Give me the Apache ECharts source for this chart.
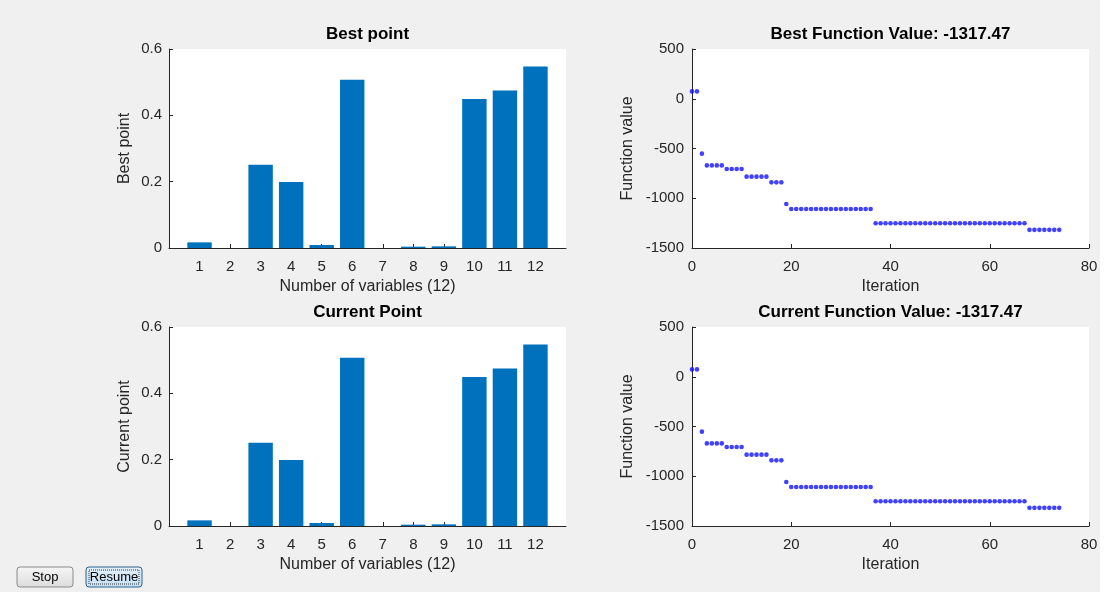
<!DOCTYPE html>
<html>
<head>
<meta charset="utf-8">
<title>Optimization progress</title>
<script src="https://cdn.jsdelivr.net/npm/echarts@6/dist/echarts.min.js"></script>
<style>
  html, body { margin: 0; padding: 0; background: #ffffff; }
  #chart { width: 1110px; height: 594px; }
</style>
</head>
<body>
<div id="chart"></div>
<script>
// Variable indices shown on the bar axes
const variableLabels = ['1', '2', '3', '4', '5', '6', '7', '8', '9', '10', '11', '12'];

// Best point found so far (one value per variable)
const bestPoint = [0.017, 0, 0.251, 0.199, 0.009, 0.507, 0, 0.004, 0.005, 0.449, 0.475, 0.547];

// Current point of the solver (one value per variable)
const currentPoint = [0.017, 0, 0.251, 0.199, 0.009, 0.507, 0, 0.004, 0.005, 0.449, 0.475, 0.547];

// Best objective value at each iteration (iteration 0 .. 74)
const bestValues = [
  74, 74, -552,
  -670, -670, -670, -670,
  -706, -706, -706, -706,
  -783, -783, -783, -783, -783,
  -840, -840, -840,
  -1058,
  -1108, -1108, -1108, -1108, -1108, -1108, -1108, -1108, -1108,
  -1108, -1108, -1108, -1108, -1108, -1108, -1108, -1108,
  -1251, -1251, -1251, -1251, -1251, -1251, -1251, -1251, -1251, -1251,
  -1251, -1251, -1251, -1251, -1251, -1251, -1251, -1251, -1251, -1251,
  -1251, -1251, -1251, -1251, -1251, -1251, -1251, -1251, -1251, -1251, -1251,
  -1317.47, -1317.47, -1317.47, -1317.47, -1317.47, -1317.47, -1317.47
];

// Current objective value at each iteration (iteration 0 .. 74)
const currentValues = [
  74, 74, -552,
  -670, -670, -670, -670,
  -706, -706, -706, -706,
  -783, -783, -783, -783, -783,
  -840, -840, -840,
  -1058,
  -1108, -1108, -1108, -1108, -1108, -1108, -1108, -1108, -1108,
  -1108, -1108, -1108, -1108, -1108, -1108, -1108, -1108,
  -1251, -1251, -1251, -1251, -1251, -1251, -1251, -1251, -1251, -1251,
  -1251, -1251, -1251, -1251, -1251, -1251, -1251, -1251, -1251, -1251,
  -1251, -1251, -1251, -1251, -1251, -1251, -1251, -1251, -1251, -1251, -1251,
  -1317.47, -1317.47, -1317.47, -1317.47, -1317.47, -1317.47, -1317.47
];

const bestFinal = '-1317.47';
const currentFinal = '-1317.47';

const FONT = '"Liberation Sans", Arial, Helvetica, sans-serif';
const AXIS_COLOR = '#262626';
const TEXT_COLOR = '#262626';
const BAR_COLOR = '#0072BD';
const DOT_COLOR = '#1010ff';

// Plot boxes (pixels)
const LEFT_X = 169, RIGHT_X = 692, BOX_W = 397, BOX_H = 199;
const TOP_Y = 49, BOTTOM_Y = 327;

const chart = echarts.init(document.getElementById('chart'), null, { renderer: 'canvas' });

// Bar axis: padding slots at 0 and 13 so the bars sit on integer ticks
const barAxisData = ['0'].concat(variableLabels, ['13']);
const padEnds = arr => [null].concat(arr, [null]);
const plainNumber = v => String(v);

function barXAxis(gridIndex, name) {
  return {
    type: 'category', gridIndex, data: barAxisData, boundaryGap: false,
    name, nameLocation: 'middle', nameGap: 31,
    nameTextStyle: { fontFamily: FONT, fontSize: 16, color: TEXT_COLOR },
    axisLine: { onZero: false, lineStyle: { color: AXIS_COLOR, width: 1 } },
    axisTick: { inside: true, length: 4, lineStyle: { color: AXIS_COLOR },
      interval: (i) => i > 0 && i < barAxisData.length - 1 },
    axisLabel: { fontFamily: FONT, fontSize: 15, color: TEXT_COLOR, margin: 11,
      interval: 0, formatter: (v, i) => (i > 0 && i < barAxisData.length - 1) ? v : '' },
    splitLine: { show: false }
  };
}
function barYAxis(gridIndex, name) {
  return {
    type: 'value', gridIndex, min: 0, max: 0.6, interval: 0.2,
    name, nameLocation: 'middle', nameGap: 36,
    nameTextStyle: { fontFamily: FONT, fontSize: 16, color: TEXT_COLOR },
    axisLine: { show: true, onZero: false, lineStyle: { color: AXIS_COLOR, width: 1 } },
    axisTick: { show: true, inside: true, length: 4, lineStyle: { color: AXIS_COLOR } },
    axisLabel: { fontFamily: FONT, fontSize: 15, color: TEXT_COLOR, margin: 7, formatter: plainNumber },
    splitLine: { show: false }
  };
}
function iterXAxis(gridIndex) {
  return {
    type: 'value', gridIndex, min: 0, max: 80, interval: 20,
    name: 'Iteration', nameLocation: 'middle', nameGap: 31,
    nameTextStyle: { fontFamily: FONT, fontSize: 16, color: TEXT_COLOR },
    axisLine: { onZero: false, lineStyle: { color: AXIS_COLOR, width: 1 } },
    axisTick: { inside: true, length: 4, lineStyle: { color: AXIS_COLOR } },
    axisLabel: { fontFamily: FONT, fontSize: 15, color: TEXT_COLOR, margin: 11, formatter: plainNumber },
    splitLine: { show: false }
  };
}
function fvalYAxis(gridIndex) {
  return {
    type: 'value', gridIndex, min: -1500, max: 500, interval: 500,
    name: 'Function value', nameLocation: 'middle', nameGap: 56,
    nameTextStyle: { fontFamily: FONT, fontSize: 16, color: TEXT_COLOR },
    axisLine: { show: true, onZero: false, lineStyle: { color: AXIS_COLOR, width: 1 } },
    axisTick: { show: true, inside: true, length: 4, lineStyle: { color: AXIS_COLOR } },
    axisLabel: { fontFamily: FONT, fontSize: 15, color: TEXT_COLOR, margin: 8, formatter: plainNumber },
    splitLine: { show: false }
  };
}
function titleAt(text, cx, top) {
  return { text, left: cx, top, textAlign: 'center', padding: 0,
    textStyle: { fontFamily: FONT, fontSize: 17, fontWeight: 'bold', color: '#000000' } };
}

function button(x, y, w, h, label, focused) {
  const children = [{
    type: 'rect', shape: { x, y, width: w, height: h, r: 3 },
    style: {
      fill: focused
        ? new echarts.graphic.LinearGradient(0, 0, 0, 1, [{ offset: 0, color: '#e5f1fb' }, { offset: 1, color: '#c4e0f7' }])
        : new echarts.graphic.LinearGradient(0, 0, 0, 1, [{ offset: 0, color: '#f6f6f6' }, { offset: 1, color: '#dcdcdc' }]),
      stroke: focused ? '#2c628b' : '#8a8a8a', lineWidth: 1
    }
  }];
  if (focused) {
    children.push({
      type: 'rect', shape: { x: x + 3, y: y + 3, width: w - 6, height: h - 6 },
      style: { fill: null, stroke: '#333333', lineWidth: 1, lineDash: [1, 1] }
    });
  }
  children.push({
    type: 'text', style: { x: x + w / 2, y: y + h / 2, text: label, align: 'center', verticalAlign: 'middle',
      font: '13px ' + FONT, fill: '#000000' }
  });
  return { type: 'group', children };
}

const option = {
  animation: false,
  backgroundColor: '#ffffff',
  graphic: [
    { type: 'rect', z: -10, shape: { x: 0, y: 0, width: 1100, height: 592 }, style: { fill: '#f0f0f0' } },
    { type: 'rect', z: -9, shape: { x: LEFT_X, y: TOP_Y, width: BOX_W, height: BOX_H }, style: { fill: '#ffffff' } },
    { type: 'rect', z: -9, shape: { x: RIGHT_X, y: TOP_Y, width: BOX_W, height: BOX_H }, style: { fill: '#ffffff' } },
    { type: 'rect', z: -9, shape: { x: LEFT_X, y: BOTTOM_Y, width: BOX_W, height: BOX_H }, style: { fill: '#ffffff' } },
    { type: 'rect', z: -9, shape: { x: RIGHT_X, y: BOTTOM_Y, width: BOX_W, height: BOX_H }, style: { fill: '#ffffff' } },
    button(17, 567, 56, 20, 'Stop', false),
    button(86, 567, 56, 20, 'Resume', true)
  ],
  title: [
    titleAt('Best point', LEFT_X + BOX_W / 2, 26),
    titleAt('Best Function Value: ' + bestFinal, RIGHT_X + BOX_W / 2, 26),
    titleAt('Current Point', LEFT_X + BOX_W / 2, 304),
    titleAt('Current Function Value: ' + currentFinal, RIGHT_X + BOX_W / 2, 304)
  ],
  grid: [
    { left: LEFT_X, top: TOP_Y, width: BOX_W, height: BOX_H },
    { left: RIGHT_X, top: TOP_Y, width: BOX_W, height: BOX_H },
    { left: LEFT_X, top: BOTTOM_Y, width: BOX_W, height: BOX_H },
    { left: RIGHT_X, top: BOTTOM_Y, width: BOX_W, height: BOX_H }
  ],
  xAxis: [
    barXAxis(0, 'Number of variables (12)'),
    iterXAxis(1),
    barXAxis(2, 'Number of variables (12)'),
    iterXAxis(3)
  ],
  yAxis: [
    barYAxis(0, 'Best point'),
    fvalYAxis(1),
    barYAxis(2, 'Current point'),
    fvalYAxis(3)
  ],
  series: [
    { type: 'bar', xAxisIndex: 0, yAxisIndex: 0, data: padEnds(bestPoint), barWidth: '80%',
      itemStyle: { color: BAR_COLOR } },
    { type: 'scatter', xAxisIndex: 1, yAxisIndex: 1, symbol: 'circle', symbolSize: 4.6,
      data: bestValues.map((v, i) => [i, v]), itemStyle: { color: DOT_COLOR } },
    { type: 'bar', xAxisIndex: 2, yAxisIndex: 2, data: padEnds(currentPoint), barWidth: '80%',
      itemStyle: { color: BAR_COLOR } },
    { type: 'scatter', xAxisIndex: 3, yAxisIndex: 3, symbol: 'circle', symbolSize: 4.6,
      data: currentValues.map((v, i) => [i, v]), itemStyle: { color: DOT_COLOR } }
  ]
};

chart.setOption(option);
</script>
</body>
</html>
